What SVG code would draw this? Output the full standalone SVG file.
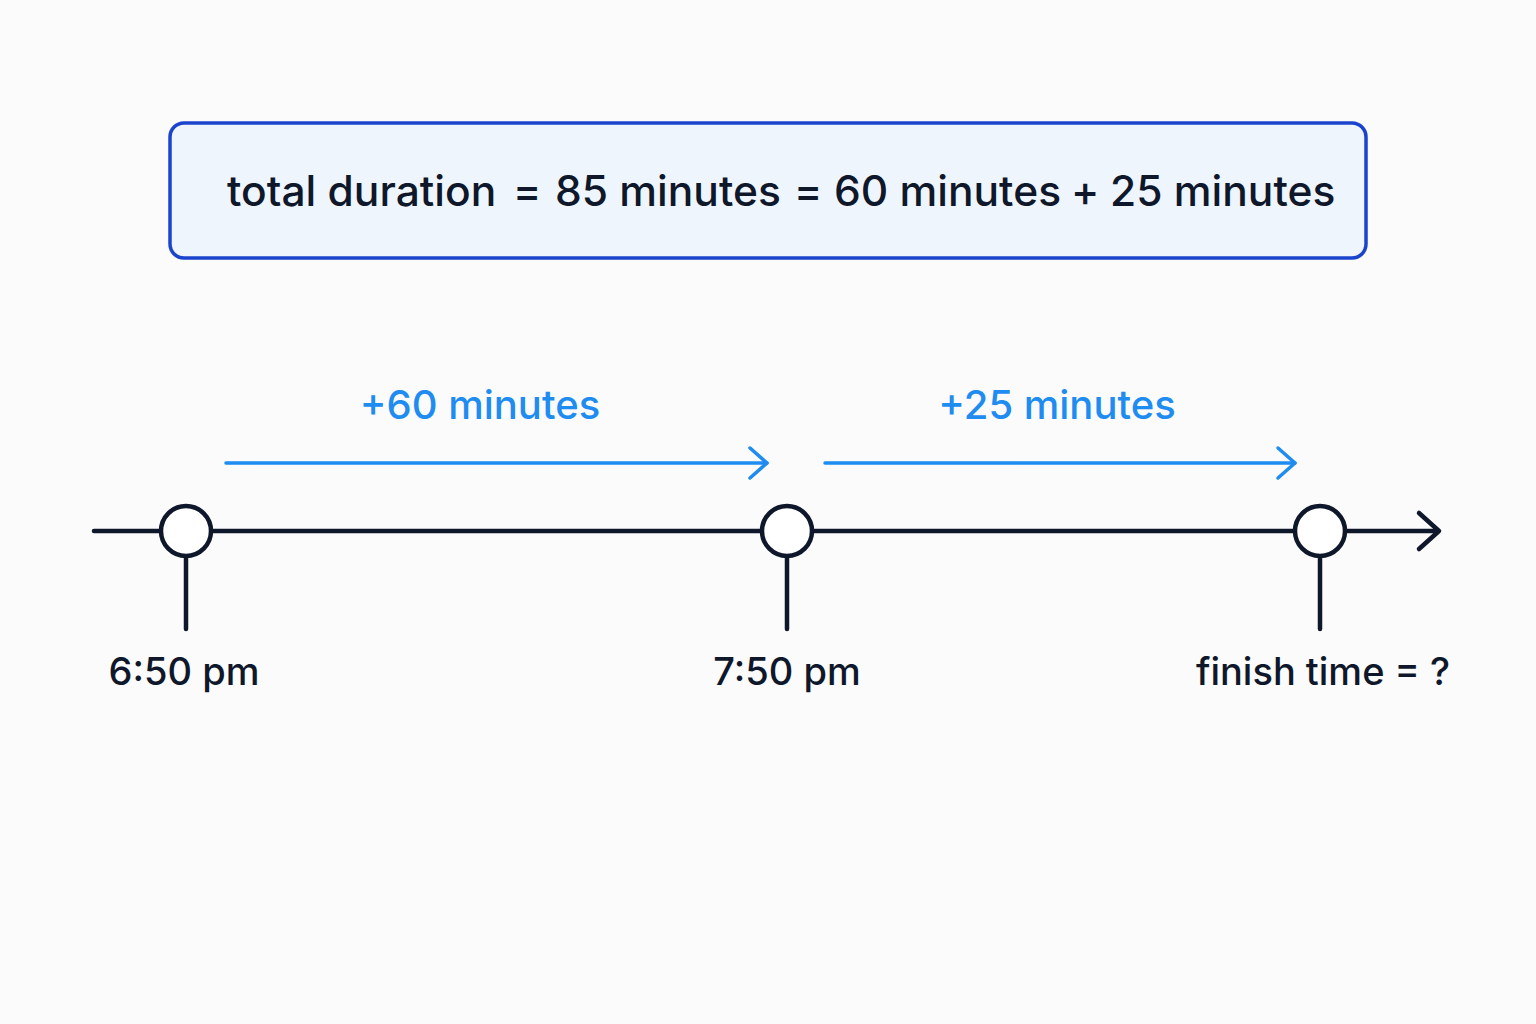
<svg xmlns="http://www.w3.org/2000/svg" width="1536" height="1024" viewBox="0 0 1536 1024">
<style>
.dark{font-family:Inter,"Liberation Sans",sans-serif;fill:#0f172a;font-weight:500}
.blue{font-family:Inter,"Liberation Sans",sans-serif;fill:#1e8cf0;font-weight:500}
.axis{stroke:#0f172a;stroke-width:4.5;fill:none;stroke-linecap:round;stroke-linejoin:round}
.node{stroke:#0f172a;stroke-width:4.5;fill:#ffffff}
.barrow{stroke:#1e8cf0;stroke-width:3.5;fill:none;stroke-linecap:round;stroke-linejoin:round}
</style>
<rect width="1536" height="1024" fill="#fbfbfc"/>
<g id="summary">
<rect x="170" y="123" width="1196" height="135" rx="14" fill="#eef5fd" stroke="#1a44cc" stroke-width="3.5"/>
<text class="dark" y="206" font-size="42.5"><tspan x="227">total duration</tspan><tspan x="513">=</tspan><tspan x="555">85 minutes</tspan><tspan x="794">=</tspan><tspan x="834">60 minutes</tspan><tspan x="1071">+</tspan><tspan x="1110">25 minutes</tspan></text>
</g>
<g id="connectors">
<line class="axis" x1="94" y1="531" x2="1438" y2="531"/>
<polyline class="axis" points="1419,513 1439,531 1419,549"/>
<line class="barrow" x1="226" y1="463" x2="767" y2="463"/>
<polyline class="barrow" points="750,448 767,463 750,478"/>
<line class="barrow" x1="825" y1="463" x2="1295" y2="463"/>
<polyline class="barrow" points="1278,448 1295,463 1278,478"/>
<line class="axis" x1="186" y1="556" x2="186" y2="629"/>
<line class="axis" x1="787" y1="556" x2="787" y2="629"/>
<line class="axis" x1="1320" y1="556" x2="1320" y2="629"/>
</g>
<g id="label-60"><text class="blue" x="480" y="419" font-size="40" text-anchor="middle">+60 minutes</text></g>
<g id="label-25"><text class="blue" x="1057" y="419" font-size="40" text-anchor="middle">+25 minutes</text></g>
<g id="node-start">
<circle class="node" cx="186" cy="531" r="25"/>
<text class="dark" x="184" y="685" font-size="38" text-anchor="middle">6:50 pm</text>
</g>
<g id="node-mid">
<circle class="node" cx="787" cy="531" r="25"/>
<text class="dark" x="787" y="685" font-size="38" text-anchor="middle">7:50 pm</text>
</g>
<g id="node-finish">
<circle class="node" cx="1320" cy="531" r="25"/>
<text class="dark" x="1323" y="685" font-size="38" text-anchor="middle">finish time = ?</text>
</g>
</svg>
